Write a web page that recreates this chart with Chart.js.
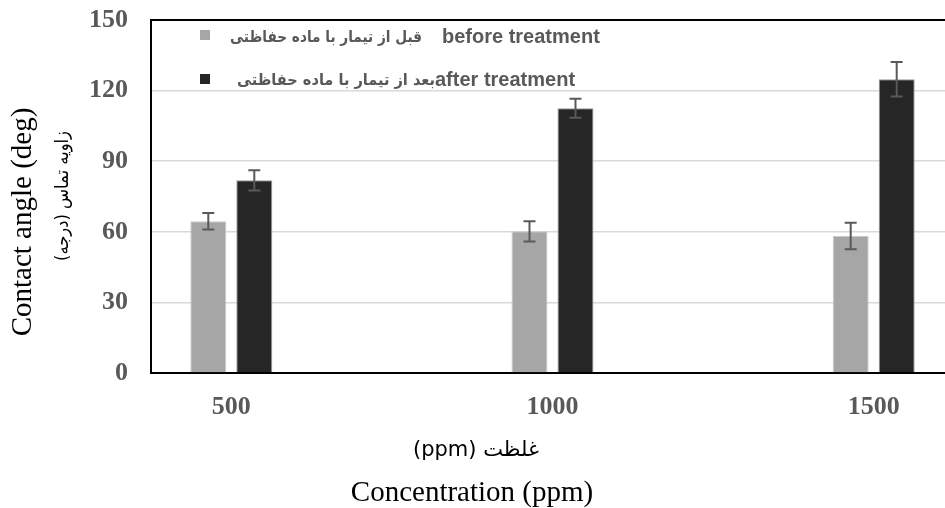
<!DOCTYPE html>
<html>
<head>
<meta charset="utf-8">
<script src="https://cdn.jsdelivr.net/npm/chart.js@4.4.0/dist/chart.umd.min.js"></script>
<style>
  html, body { margin: 0; padding: 0; background: #fff; }
  #wrap { width: 945px; height: 508px; position: relative; }
</style>
</head>
<body>
<div id="wrap"><canvas id="chart"></canvas></div>
<script>
// ===== Contact angle vs concentration =====
const concentrations = [500, 1000, 1500];
const xTicks = [500, 1000, 1500];
const yTicks = [0, 30, 60, 90, 120, 150];
const beforeVals = [64.5, 60.2, 58.2];
const beforeErr = [3.5, 4.3, 5.6];
const afterVals = [81.9, 112.5, 124.8];
const afterErr = [4.3, 4.0, 7.3];

const beforeLabelFa = 'قبل از تیمار با ماده حفاظتی';
const beforeLabelEn = 'before treatment';
const afterLabelFa = 'بعد از تیمار با ماده حفاظتی';
const afterLabelEn = 'after treatment';
const yTitleEn = 'Contact angle (deg)';
const yTitleFa = '\u200Fزاویه تماس (درجه)\u200F';
const xTitleFa = '(ppm) غلظت';
const xTitleEn = 'Concentration (ppm)';

const C = {
  light: '#a6a6a6', dark: '#262626', edge: '#c9c9c9',
  err: '#595959', tick: '#595959', grid: '#d9d9d9'
};

// error bars on top of each bar
const errBars = {
  id: 'errBars',
  afterDatasetsDraw(chart) {
    const { ctx, scales: { y } } = chart;
    ctx.save();
    ctx.strokeStyle = C.err;
    ctx.lineWidth = 2;
    chart.data.datasets.forEach((ds, i) => {
      chart.getDatasetMeta(i).data.forEach((bar, j) => {
        const v = ds.data[j].y, e = ds.errors[j];
        const top = y.getPixelForValue(v + e), bot = y.getPixelForValue(v - e);
        ctx.beginPath();
        ctx.moveTo(bar.x, top); ctx.lineTo(bar.x, bot);
        ctx.moveTo(bar.x - 6, top); ctx.lineTo(bar.x + 6, top);
        ctx.moveTo(bar.x - 6, bot); ctx.lineTo(bar.x + 6, bot);
        ctx.stroke();
      });
    });
    ctx.restore();
  }
};

// frame top line, legend inside plot, axis titles
const decor = {
  id: 'decor',
  afterDraw(chart) {
    const { ctx, chartArea: a } = chart;
    ctx.save();
    ctx.strokeStyle = '#000';
    ctx.lineWidth = 2;
    ctx.beginPath(); ctx.moveTo(a.left - 1, a.top); ctx.lineTo(a.right, a.top); ctx.stroke();

    // legend
    ctx.fillStyle = C.light; ctx.fillRect(200, 30, 10, 10);
    ctx.fillStyle = C.dark; ctx.fillRect(200, 74, 10, 10);
    ctx.fillStyle = C.tick;
    ctx.font = "bold 20px 'Liberation Sans', Arial, sans-serif";
    ctx.textBaseline = 'alphabetic';
    ctx.textAlign = 'left';
    ctx.fillText(beforeLabelEn, 442, 43);
    ctx.fillText(afterLabelEn, 435, 86);
    ctx.font = "bold 16px 'DejaVu Sans', sans-serif";
    ctx.textAlign = 'right';
    ctx.fillText(beforeLabelFa, 422, 42, 192);
    ctx.fillText(afterLabelFa, 435, 85, 198);

    // axis titles
    ctx.fillStyle = '#000';
    ctx.textAlign = 'center';
    ctx.textBaseline = 'middle';
    ctx.font = "29px 'Liberation Serif', 'Times New Roman', serif";
    ctx.fillText(xTitleEn, 472, 493);
    ctx.font = "21px 'DejaVu Sans', sans-serif";
    ctx.fillText(xTitleFa, 476, 451);

    ctx.save();
    ctx.translate(23, 222); ctx.rotate(-Math.PI / 2);
    ctx.font = "29px 'Liberation Serif', 'Times New Roman', serif";
    ctx.fillText(yTitleEn, 0, 0);
    ctx.restore();
    ctx.save();
    ctx.translate(63, 196); ctx.rotate(-Math.PI / 2);
    ctx.font = "18px 'DejaVu Sans', sans-serif";
    ctx.fillText(yTitleFa, 0, 0, 130);
    ctx.restore();
    ctx.restore();
  }
};

const tickFont = { family: "'Liberation Serif', 'Times New Roman', serif", size: 26, weight: 'bold' };

new Chart(document.getElementById('chart'), {
  type: 'bar',
  data: {
    datasets: [
      { label: beforeLabelEn, data: concentrations.map((c, i) => ({ x: c, y: beforeVals[i] })), errors: beforeErr,
        backgroundColor: C.light, borderColor: C.edge, borderWidth: 1 },
      { label: afterLabelEn, data: concentrations.map((c, i) => ({ x: c, y: afterVals[i] })), errors: afterErr,
        backgroundColor: C.dark, borderColor: '#9a9a9a', borderWidth: 1 }
    ]
  },
  options: {
    responsive: true, maintainAspectRatio: false, animation: false,
    categoryPercentage: 0.2864, barPercentage: 0.783,
    layout: { padding: { top: 20, right: 0, left: 0, bottom: 0 } },
    plugins: { legend: { display: false }, tooltip: { enabled: false } },
    scales: {
      x: {
        type: 'linear', min: 375, max: 1611, offset: false,
        afterBuildTicks: s => { s.ticks = xTicks.map(v => ({ value: v })); },
        afterFit: s => { s.height = 135; s.paddingLeft = 0; s.paddingRight = 0; },
        grid: { display: false, drawTicks: false },
        border: { color: '#000', width: 2 },
        ticks: { color: C.tick, font: tickFont, padding: 19, maxRotation: 0, callback: v => String(v) }
      },
      y: {
        min: 0, max: 150,
        afterBuildTicks: s => { s.ticks = yTicks.map(v => ({ value: v })); },
        afterFit: s => { s.width = 151; s.paddingTop = 0; s.paddingBottom = 0; },
        grid: { color: C.grid, lineWidth: 1.5, drawTicks: false },
        border: { color: '#000', width: 2 },
        ticks: { color: C.tick, font: tickFont, padding: 23 }
      }
    }
  },
  plugins: [errBars, decor]
});
</script>
</body>
</html>
